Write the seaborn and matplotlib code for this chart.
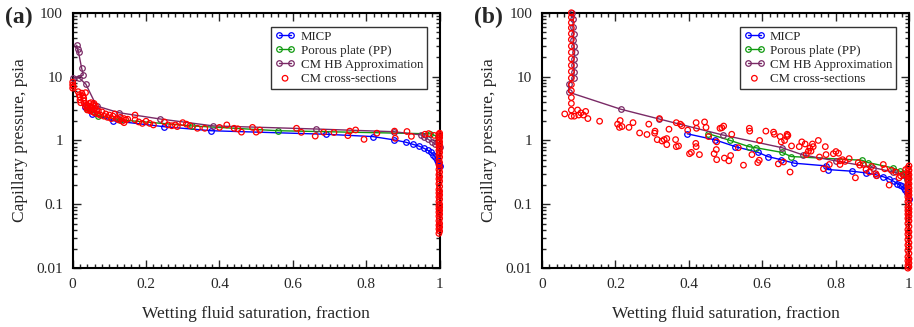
"""Courbes de pression capillaire (a) et (b) : MICP, plaque poreuse, CM HB, sections CM."""
import matplotlib
matplotlib.use("Agg")
import matplotlib.pyplot as plt
from matplotlib.ticker import FixedLocator, FuncFormatter, LogLocator, MultipleLocator
import seaborn as sns

# ---- panneau (a) ----
a_micp_x = [0.034, 0.054, 0.109, 0.25, 0.378, 0.69, 0.818, 0.876, 0.907, 0.927, 0.945,
            0.958, 0.968, 0.976, 0.983, 0.988, 0.992, 0.995, 0.998, 1.0]
a_micp_y = [3.3, 2.57, 2.04, 1.64, 1.42, 1.25, 1.15, 1.02, 0.94, 0.87, 0.81,
            0.75, 0.70, 0.65, 0.60, 0.55, 0.50, 0.46, 0.42, 0.40]

a_pp_x = [0.04, 0.07, 0.13, 0.324, 0.56, 0.975, 0.995]
a_pp_y = [3.1, 2.45, 2.1, 1.69, 1.42, 1.27, 1.15]

a_hb_x = [0.011, 0.0136, 0.016, 0.0245, 0.029, 0.002, 0.018, 0.036, 0.065, 0.126, 0.238,
          0.383, 0.664, 0.876, 0.95, 0.958, 0.968, 0.978, 0.988, 1.0]
a_hb_y = [31, 26.7, 24, 13.5, 10.6, 9.5, 9.5, 7.6, 3.47, 2.72, 2.17,
          1.69, 1.51, 1.37, 1.22, 1.12, 1.05, 0.96, 0.88, 0.8]

a_cm_x = [0.0, 0.0, 0.0, 0.002, 0.015, 0.018, 0.02, 0.02, 0.022, 0.025, 0.028, 0.03, 0.03,
          0.032, 0.035, 0.035, 0.038, 0.04, 0.04, 0.042, 0.045, 0.045, 0.048, 0.05, 0.05,
          0.052, 0.055, 0.055, 0.058, 0.06, 0.06, 0.062, 0.065, 0.068, 0.07, 0.075, 0.08,
          0.085, 0.09, 0.095, 0.1, 0.105, 0.11, 0.115, 0.12, 0.125, 0.13, 0.135, 0.14, 0.14,
          0.145, 0.15, 0.17, 0.17, 0.18, 0.19, 0.2, 0.21, 0.22, 0.25, 0.26, 0.27, 0.28, 0.285,
          0.3, 0.31, 0.32, 0.34, 0.36, 0.4, 0.42, 0.44, 0.45, 0.46, 0.49, 0.5, 0.51, 0.61,
          0.623, 0.661, 0.684, 0.712, 0.75, 0.755, 0.771, 0.794, 0.829, 0.877, 0.879, 0.911,
          0.923, 0.96, 0.97, 0.985,
          1.0, 0.998, 1.0, 0.998, 1.0, 0.998, 1.0, 0.998, 1.0, 0.998, 1.0, 0.998, 1.0, 0.998,
          1.0, 0.998, 1.0, 0.998, 1.0, 0.998, 1.0, 0.998, 1.0, 0.998, 1.0, 0.998, 1.0, 0.998,
          1.0, 0.998, 1.0, 0.998, 1.0, 0.998, 1.0, 0.998, 1.0, 0.998, 1.0, 0.998, 1.0, 0.998,
          1.0, 0.998, 1.0, 0.998, 1.0, 0.998, 1.0, 0.998]
a_cm_y = [8.2, 7.4, 6.6, 7.0, 5.8, 5.2, 4.8, 4.3, 3.9, 5.5, 5.0, 4.6, 4.2,
          3.8, 3.4, 5.6, 3.6, 3.2, 3.0, 3.5, 3.8, 3.1, 2.9, 3.9, 3.4,
          3.0, 3.6, 2.8, 3.8, 3.2, 2.7, 3.5, 3.0, 2.6, 2.9, 2.5, 2.8,
          2.4, 2.6, 2.3, 2.5, 2.2, 2.4, 2.6, 2.2, 2.1, 2.3, 2.0, 2.2, 1.9,
          2.1, 2.15, 2.5, 2.1, 1.95, 1.85, 2.0, 1.85, 1.75, 1.95, 1.75, 1.7, 1.75, 1.65,
          1.9, 1.8, 1.7, 1.55, 1.55, 1.6, 1.75, 1.55, 1.52, 1.35, 1.6, 1.35, 1.45, 1.55,
          1.34, 1.17, 1.34, 1.33, 1.19, 1.4, 1.46, 1.04, 1.3, 1.4, 1.08, 1.38,
          1.16, 1.25, 1.28, 1.2,
          1.3, 1.25, 1.2, 1.15, 1.1, 1.0, 0.95, 0.9, 0.85, 0.8, 0.75, 0.7, 0.65, 0.6,
          0.55, 0.5, 0.45, 0.42, 0.38, 0.35, 0.32, 0.29, 0.27, 0.25, 0.23, 0.21, 0.19, 0.17,
          0.16, 0.15, 0.14, 0.13, 0.12, 0.11, 0.1, 0.095, 0.09, 0.085, 0.08, 0.075, 0.07, 0.065,
          0.06, 0.055, 0.05, 0.047, 0.044, 0.041, 0.038, 0.035]

# ---- panneau (b) ----
b_micp_x = [0.396, 0.472, 0.527, 0.589, 0.615, 0.651, 0.688, 0.773, 0.779, 0.844, 0.883,
            0.91, 0.93, 0.945, 0.958, 0.968, 0.975, 0.981, 0.986, 0.99, 0.995, 1.0]
b_micp_y = [1.27, 1.02, 0.80, 0.65, 0.56, 0.50, 0.44, 0.40, 0.35, 0.33, 0.31,
            0.29, 0.27, 0.25, 0.23, 0.21, 0.20, 0.19, 0.18, 0.17, 0.15, 0.12]

b_pp_x = [0.452, 0.513, 0.564, 0.582, 0.654, 0.679, 0.871, 0.889, 0.957, 0.975, 0.985, 0.995]
b_pp_y = [1.28, 1.0, 0.8, 0.77, 0.65, 0.56, 0.49, 0.45, 0.37, 0.33, 0.31, 0.25]

b_hb_x = [0.082, 0.085, 0.084, 0.086, 0.085, 0.087, 0.089, 0.087, 0.086, 0.088, 0.086,
          0.073, 0.073, 0.215, 0.319, 0.492, 0.654, 0.712, 0.80, 0.903, 0.957, 0.985, 0.995]
b_hb_y = [98, 80, 60, 47, 37, 30, 24.6, 19, 15, 12, 9.5,
          7.65, 5.7, 3.08, 2.17, 1.22, 0.77, 0.59, 0.48, 0.375, 0.32, 0.29, 0.2]

b_cm_x = [0.08, 0.08, 0.08, 0.08, 0.08, 0.08, 0.08, 0.08, 0.08, 0.08, 0.08, 0.08, 0.08,
          0.08, 0.08, 0.08, 0.08, 0.08,
          0.062, 0.088, 0.097, 0.1, 0.106, 0.113, 0.119, 0.125, 0.157, 0.206, 0.211, 0.213,
          0.218, 0.237, 0.248, 0.266, 0.286, 0.291, 0.307, 0.308, 0.314, 0.32, 0.327, 0.333,
          0.34, 0.34, 0.346, 0.364, 0.366, 0.372, 0.366, 0.377, 0.381, 0.397, 0.402, 0.407,
          0.419, 0.42, 0.42, 0.421, 0.429, 0.443, 0.447, 0.454, 0.469, 0.475, 0.476, 0.476,
          0.485, 0.49, 0.495, 0.497, 0.509, 0.514, 0.517, 0.535, 0.549, 0.565, 0.566, 0.572,
          0.588, 0.592, 0.593, 0.61, 0.631, 0.633, 0.644, 0.649, 0.652, 0.658, 0.661, 0.667,
          0.668, 0.67, 0.676, 0.68, 0.701, 0.708, 0.717, 0.72, 0.726, 0.73, 0.733, 0.737,
          0.739, 0.753, 0.756, 0.767, 0.772, 0.774, 0.783, 0.794, 0.801, 0.808, 0.812, 0.812,
          0.819, 0.826, 0.837, 0.854, 0.862, 0.866, 0.876, 0.883, 0.892, 0.898, 0.91, 0.912,
          0.93, 0.934, 0.946, 0.952, 0.964, 0.973, 0.977, 0.985, 0.991,
          1.0, 0.997, 1.0, 0.997, 1.0, 0.997, 1.0, 0.997, 1.0, 0.997, 1.0, 0.997, 1.0, 0.997,
          1.0, 0.997, 1.0, 0.997, 1.0, 0.997, 1.0, 0.997, 1.0, 0.997, 1.0, 0.997, 1.0, 0.997,
          1.0, 0.997, 1.0, 0.997, 1.0, 0.997, 1.0, 0.997, 1.0, 0.997, 1.0, 0.997, 1.0, 0.997,
          1.0, 0.997, 1.0, 0.997]
b_cm_y = [100, 85, 70, 58, 47, 38, 30, 24, 19, 15, 12, 9.5, 7.5,
          6.0, 4.7, 3.8, 3.0, 2.4,
          2.6, 2.4, 3.0, 2.5, 2.7, 2.5, 2.85, 2.2, 2.0, 1.8, 1.6, 2.05,
          1.65, 1.6, 1.9, 1.31, 1.24, 1.8, 1.3, 1.4, 1.03, 2.2, 0.98, 1.03,
          0.86, 1.07, 1.5, 1.03, 0.8, 0.82, 1.9, 1.8, 1.7, 1.45, 0.62, 0.65,
          0.9, 0.8, 1.9, 1.55, 0.6, 1.95, 1.6, 1.15, 0.62, 0.72, 0.5, 0.95,
          1.55, 1.58, 1.68, 0.53, 0.48, 0.58, 1.25, 0.77, 0.41, 1.55, 1.4, 0.6,
          0.45, 0.49, 1.0, 1.4, 1.35, 1.25, 0.43, 1.15, 0.95, 0.46, 1.0, 1.15,
          1.25, 1.2, 0.32, 0.82, 0.8, 0.95, 0.88, 0.6, 0.68, 0.76, 0.68, 0.88,
          0.8, 1.0, 0.55, 0.36, 0.8, 0.6, 0.42, 0.62, 0.67, 0.63, 0.42, 0.48,
          0.5, 0.47, 0.52, 0.26, 0.45, 0.41, 0.42, 0.35, 0.32, 0.39, 0.3, 0.28,
          0.42, 0.36, 0.2, 0.34, 0.32, 0.26, 0.28, 0.29, 0.35,
          0.4, 0.37, 0.34, 0.31, 0.29, 0.27, 0.25, 0.23, 0.21, 0.2, 0.18, 0.17, 0.16, 0.15,
          0.14, 0.13, 0.12, 0.11, 0.1, 0.09, 0.085, 0.08, 0.075, 0.07, 0.065, 0.06, 0.055, 0.05,
          0.045, 0.04, 0.037, 0.034, 0.031, 0.028, 0.025, 0.023, 0.021, 0.019, 0.017, 0.015,
          0.014, 0.013, 0.012, 0.011, 0.0105, 0.01]

X_TICKS = [0, 0.2, 0.4, 0.6, 0.8, 1]
Y_TICKS = [0.01, 0.1, 1, 10, 100]
COL = {"micp": "#0000ff", "pp": "#109a10", "hb": "#7a2a66", "cm": "#ff0000"}

sns.set_theme(style="ticks")
plt.rcParams["font.family"] = ["Liberation Serif", "DejaVu Serif"]


def draw_panel(ax, micp, pp, hb, cm, tag):
    for (x, y), key, lbl in [(micp, "micp", "MICP"), (pp, "pp", "Porous plate (PP)"),
                             (hb, "hb", "CM HB Approximation")]:
        sns.lineplot(x=x, y=y, ax=ax, sort=False, estimator=None, color=COL[key], lw=1.0,
                     marker="o", ms=4.0, mfc="none", mec=COL[key], mew=0.9, label=lbl,
                     clip_on=False, zorder=3)
    sns.scatterplot(x=cm[0], y=cm[1], ax=ax, marker="o", s=16, facecolors="none",
                    edgecolor=COL["cm"], linewidth=0.9, label="CM cross-sections",
                    clip_on=False, zorder=4)
    ax.set_yscale("log")
    ax.set_xlim(0, 1); ax.set_ylim(0.01, 100)
    ax.xaxis.set_major_locator(FixedLocator(X_TICKS))
    ax.xaxis.set_minor_locator(MultipleLocator(0.02))
    ax.yaxis.set_major_locator(FixedLocator(Y_TICKS))
    ax.yaxis.set_minor_locator(LogLocator(base=10, subs=range(2, 10)))
    fmt = FuncFormatter(lambda v, p: f"{v:g}")
    ax.xaxis.set_major_formatter(fmt); ax.yaxis.set_major_formatter(fmt)
    ax.tick_params(which="both", direction="in", top=True, right=True, labelsize=11, width=1.0)
    ax.tick_params(which="major", length=6, pad=7)
    ax.tick_params(which="minor", length=3)
    for s in ax.spines.values():
        s.set_linewidth(1.5); s.set_color("black")
    ax.set_xlabel("Wetting fluid saturation, fraction", fontsize=12.5, labelpad=11)
    ax.set_ylabel("Capillary pressure, psia", fontsize=12.5, labelpad=6)
    leg = ax.legend(loc="upper right", bbox_to_anchor=(0.965, 0.945), borderaxespad=0,
                    fontsize=9.3, numpoints=2, scatterpoints=1, handlelength=1.6,
                    handletextpad=0.4, labelspacing=0.15, borderpad=0.3,
                    fancybox=False, framealpha=1, edgecolor="#333333")
    leg.get_frame().set_linewidth(1.0)
    ax.text(-0.185, 0.983, tag, transform=ax.transAxes, fontsize=17, fontweight="bold",
            ha="left", va="center")


fig = plt.figure(figsize=(9.14, 3.27), dpi=100)
ax_a = fig.add_axes([0.0795, 0.180, 0.4015, 0.781])
ax_b = fig.add_axes([0.593, 0.180, 0.4015, 0.781])
draw_panel(ax_a, (a_micp_x, a_micp_y), (a_pp_x, a_pp_y), (a_hb_x, a_hb_y), (a_cm_x, a_cm_y), "(a)")
draw_panel(ax_b, (b_micp_x, b_micp_y), (b_pp_x, b_pp_y), (b_hb_x, b_hb_y), (b_cm_x, b_cm_y), "(b)")
fig.savefig("out.png", dpi=100)
plt.close(fig)
